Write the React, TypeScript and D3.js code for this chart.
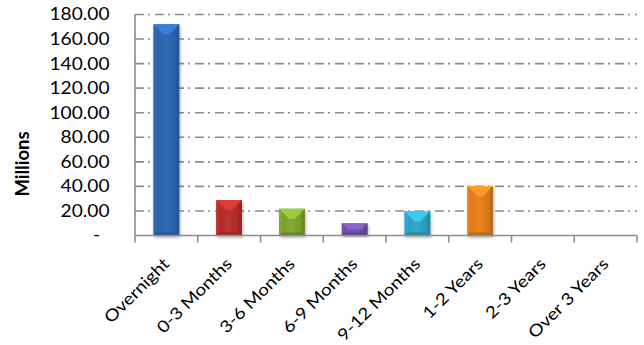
import React from "react";
import * as d3 from "d3";

const categories = ["Overnight", "0-3 Months", "3-6 Months", "6-9 Months", "9-12 Months", "1-2 Years", "2-3 Years", "Over 3 Years"];
const values = [172, 28.9, 21.8, 9.9, 19.7, 40.3, 0, 0];
const barColors = ["#2E66B0", "#B52F2C", "#7DA52F", "#6E50A6", "#2FA3C4", "#E47F1F"];
const yTicks = [0, 20, 40, 60, 80, 100, 120, 140, 160, 180];

const W = 644, H = 345;
const left = 135, right = 637, top = 14.5, bottom = 235.5;
const FONT = "Lato, 'Open Sans', sans-serif";

export default function App() {
  const x = d3.scaleBand<string>().domain(categories).range([left, right]).paddingInner(0).paddingOuter(0);
  const y = d3.scaleLinear().domain([0, 180]).range([bottom, top]);
  const bw = x.bandwidth() * 0.41;
  const fmt = (v: number) => (v === 0 ? "-" : d3.format(".2f")(v));

  return (
    <svg width={W} height={H} style={{ position: "absolute", left: 0, top: 0, background: "#fff" }}>
      <defs>
        {barColors.map((c, i) => {
          const col = d3.color(c)! as any;
          return (
            <linearGradient key={i} id={`g${i}`} x1="0" x2="1" y1="0" y2="0">
              <stop offset="0" stopColor={col.darker(0.15).toString()} />
              <stop offset="0.5" stopColor={col.brighter(0.1).toString()} />
              <stop offset="1" stopColor={col.darker(0.35).toString()} />
            </linearGradient>
          );
        })}
        <filter id="sh" x="-30%" y="-10%" width="160%" height="130%">
          <feGaussianBlur in="SourceAlpha" stdDeviation="1.5" />
          <feOffset dx="1" dy="2" result="b" />
          <feComponentTransfer><feFuncA type="linear" slope="0.3" /></feComponentTransfer>
          <feMerge><feMergeNode /><feMergeNode in="SourceGraphic" /></feMerge>
        </filter>
      </defs>

      {/* gridlines */}
      {yTicks.filter((t) => t > 0).map((t) => (
        <line key={t} x1={left} x2={right} y1={y(t)} y2={y(t)} stroke="#8C8C8C" strokeWidth={1.6} strokeDasharray="9,4,2,5" />
      ))}

      {/* y axis */}
      <line x1={left} x2={left} y1={top} y2={bottom} stroke="#8C8C8C" strokeWidth={1.6} />
      {yTicks.map((t) => (
        <text key={t} transform={`translate(${t === 0 ? 100 : 109.5},${y(t)}) scale(1.16,1)`} dy="0.36em" textAnchor="end" fontFamily={FONT} fontSize={16.5} fill="#000">
          {fmt(t)}
        </text>
      ))}
      <text transform={`translate(22,164) rotate(-90)`} dy="0.36em" textAnchor="middle" fontFamily={FONT} fontSize={18.5} fontWeight="bold" fill="#000">
        Millions
      </text>

      {/* bars */}
      {categories.map((c, i) => {
        const v = values[i];
        if (v <= 0) return null;
        const bx = x(c)! + (x.bandwidth() - bw) / 2;
        const by = y(v);
        const h = y(0) - by;
        const d = Math.min(10, h / 2, bw / 2);
        const col = d3.color(barColors[i])! as any;
        const light = col.brighter(0.6).toString();
        const sideL = col.brighter(0.15).toString();
        const sideR = col.darker(0.5).toString();
        const dark = col.darker(0.7).toString();
        return (
          <g key={c} filter="url(#sh)">
            <rect x={bx} y={by} width={bw} height={h} fill={`url(#g${i})`} />
            <polygon points={`${bx},${by} ${bx + bw},${by} ${bx + bw - d},${by + d} ${bx + d},${by + d}`} fill={light} />
            <polygon points={`${bx},${by} ${bx + 3},${by + 3} ${bx + 3},${by + h - 3} ${bx},${by + h}`} fill={sideL} opacity={0.8} />
            <polygon points={`${bx + bw},${by} ${bx + bw - 3},${by + 3} ${bx + bw - 3},${by + h - 3} ${bx + bw},${by + h}`} fill={sideR} opacity={0.9} />
            <polygon points={`${bx},${by + h} ${bx + bw},${by + h} ${bx + bw - 3},${by + h - 3} ${bx + 3},${by + h - 3}`} fill={dark} opacity={0.8} />
          </g>
        );
      })}

      {/* x axis */}
      <line x1={left} x2={right} y1={bottom} y2={bottom} stroke="#8C8C8C" strokeWidth={1.6} />
      {d3.range(categories.length + 1).map((k) => {
        const tx = left + k * x.step();
        return <line key={k} x1={tx} x2={tx} y1={bottom} y2={bottom + 7} stroke="#8C8C8C" strokeWidth={1.6} />;
      })}
      {categories.map((c) => {
        const cx = x(c)! + x.bandwidth() / 2 + 4;
        return (
          <text key={c} transform={`translate(${cx},${265}) rotate(-45) scale(1.15,1)`} textAnchor="end" fontFamily={FONT} fontSize={16.5} fill="#000">
            {c}
          </text>
        );
      })}
    </svg>
  );
}
